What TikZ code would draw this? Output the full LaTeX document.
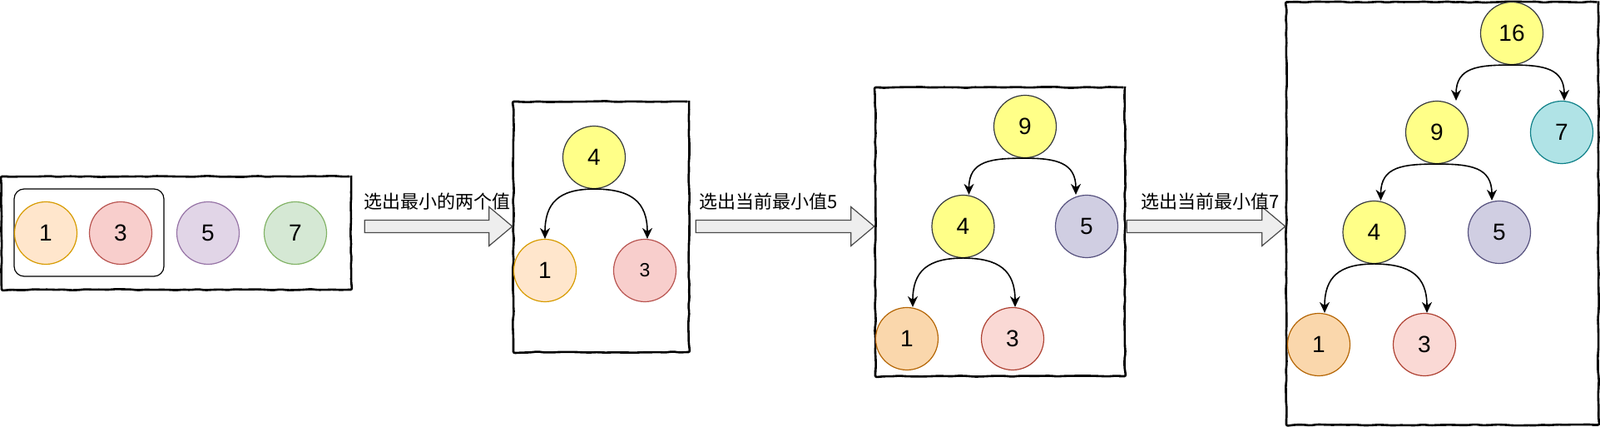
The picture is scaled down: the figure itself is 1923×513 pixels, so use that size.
\documentclass[tikz,border=0pt]{standalone}
\usepackage{fontspec}
\setmainfont{Liberation Sans}
\newfontfamily\cjk{Noto Sans CJK SC}
\usetikzlibrary{arrows.meta, calc, decorations.pathmorphing}

\definecolor{peachfill}{HTML}{FFE6CC}
\definecolor{peachline}{HTML}{D79B00}
\definecolor{rosefill}{HTML}{F8CECC}
\definecolor{roseline}{HTML}{B85450}
\definecolor{lilacfill}{HTML}{E1D5E7}
\definecolor{lilacline}{HTML}{9673A6}
\definecolor{mintfill}{HTML}{D5E8D4}
\definecolor{mintline}{HTML}{82B366}
\definecolor{lemonfill}{HTML}{FFFF88}
\definecolor{lemonline}{HTML}{36393D}
\definecolor{apricotfill}{HTML}{FAD7AC}
\definecolor{apricotline}{HTML}{B46504}
\definecolor{blushfill}{HTML}{FAD9D5}
\definecolor{blushline}{HTML}{AE4132}
\definecolor{slatefill}{HTML}{D0CEE2}
\definecolor{slateline}{HTML}{56517E}
\definecolor{aquafill}{HTML}{B0E3E6}
\definecolor{aqualine}{HTML}{0E8088}
\definecolor{arrfill}{HTML}{EEEEEE}
\definecolor{arrline}{HTML}{4A4A4A}

\begin{document}
\begin{tikzpicture}[x=1pt, y=1pt,
	sketch/.style={draw, line width=2.6pt, rounded corners=2pt, decorate, decoration={random steps, segment length=9pt, amplitude=0.7pt}, inner sep=0pt},
	ball/.style={circle, minimum size=75pt, inner sep=0pt, line width=1.2pt, font=\fontsize{28}{30}\selectfont},
	peach/.style={ball, fill=peachfill, draw=peachline},
	rose/.style={ball, fill=rosefill, draw=roseline},
	lilac/.style={ball, fill=lilacfill, draw=lilacline},
	mint/.style={ball, fill=mintfill, draw=mintline},
	lemon/.style={ball, fill=lemonfill, draw=lemonline},
	apricot/.style={ball, fill=apricotfill, draw=apricotline},
	blush/.style={ball, fill=blushfill, draw=blushline},
	slate/.style={ball, fill=slatefill, draw=slateline},
	aqua/.style={ball, fill=aquafill, draw=aqualine},
	link/.style={-{Stealth[length=13pt, width=12pt]}, line width=1.6pt, looseness=1.3},
	flexarr/.style={fill=arrfill, draw=arrline, line width=1.2pt, line join=miter},
	tag/.style={font=\cjk\fontsize{22}{24}\selectfont, inner sep=0pt, anchor=base west}]

	\useasboundingbox (0,0) rectangle (1923,513);

	\node[sketch, minimum width=420, minimum height=136] (box1) at (212,233) {};
	\node[draw, rounded corners=12pt, line width=1.2pt, minimum width=180, minimum height=105] (pair) at (107,233.5) {};
	\node[peach] (a1) at (55,233) {1};
	\node[rose] (a3) at (145,233) {3};
	\node[lilac] (a5) at (250,233) {5};
	\node[mint] (a7) at (355,233) {7};

	\node[sketch, minimum width=211, minimum height=301] (box2) at (722.5,240.5) {};
	\node[lemon] (b4) at (714,324) {4};
	\node[peach] (b1) at (655,188) {1};
	\node[rose, font=\fontsize{23}{25}\selectfont] (b3) at (775,188) {3};

	\node[sketch, minimum width=300, minimum height=347] (box3) at (1202,234.5) {};
	\node[lemon] (c9) at (1232,361) {9};
	\node[lemon] (c4) at (1157.5,241) {4};
	\node[slate] (c5) at (1306,241) {5};
	\node[apricot] (c1) at (1090,106) {1};
	\node[blush] (c3) at (1217,106) {3};

	\node[sketch, minimum width=375, minimum height=508] (box4) at (1733.5,256.5) {};
	\node[lemon] (d16) at (1817,473) {16};
	\node[lemon] (d9) at (1727,354) {9};
	\node[aqua] (d7) at (1877,354) {7};
	\node[lemon] (d4) at (1651.5,234) {4};
	\node[slate] (d5) at (1802,234) {5};
	\node[apricot] (d1) at (1585,99) {1};
	\node[blush] (d3) at (1712,99) {3};

	\foreach \a/\b/\g in {box1/box2/15, box2/box3/7, box3/box4/1}
		\draw[flexarr] let \p1=(\a.east), \p2=(\b.west) in
			(\x1+\g,233.5) -- (\x2-28,233.5) -- (\x2-28,217.5) -- (\x2,241) -- (\x2-28,264.5) -- (\x2-28,248.5) -- (\x1+\g,248.5) -- cycle;

	\node[tag] (t1) at (437,262.5) {选出最小的两个值};
	\node[tag] (t2) at (840,262.5) {选出当前最小值5};
	\node[tag] (t3) at (1371,262.5) {选出当前最小值7};

	\foreach \p/\c/\o/\e in {b4/b1/180/0, b4/b3/0/3, c9/c4/180/7, c9/c5/0/-13, c4/c1/180/7, c4/c3/0/3, d16/d9/180/23, d16/d7/0/3, d9/d4/180/8, d9/d5/0/-9, d4/d1/180/7, d4/d3/0/3}
		\draw[link] (\p.south) to[out=\o, in=90] ($(\c.north)+(\e,0)$);
\end{tikzpicture}
\end{document}
